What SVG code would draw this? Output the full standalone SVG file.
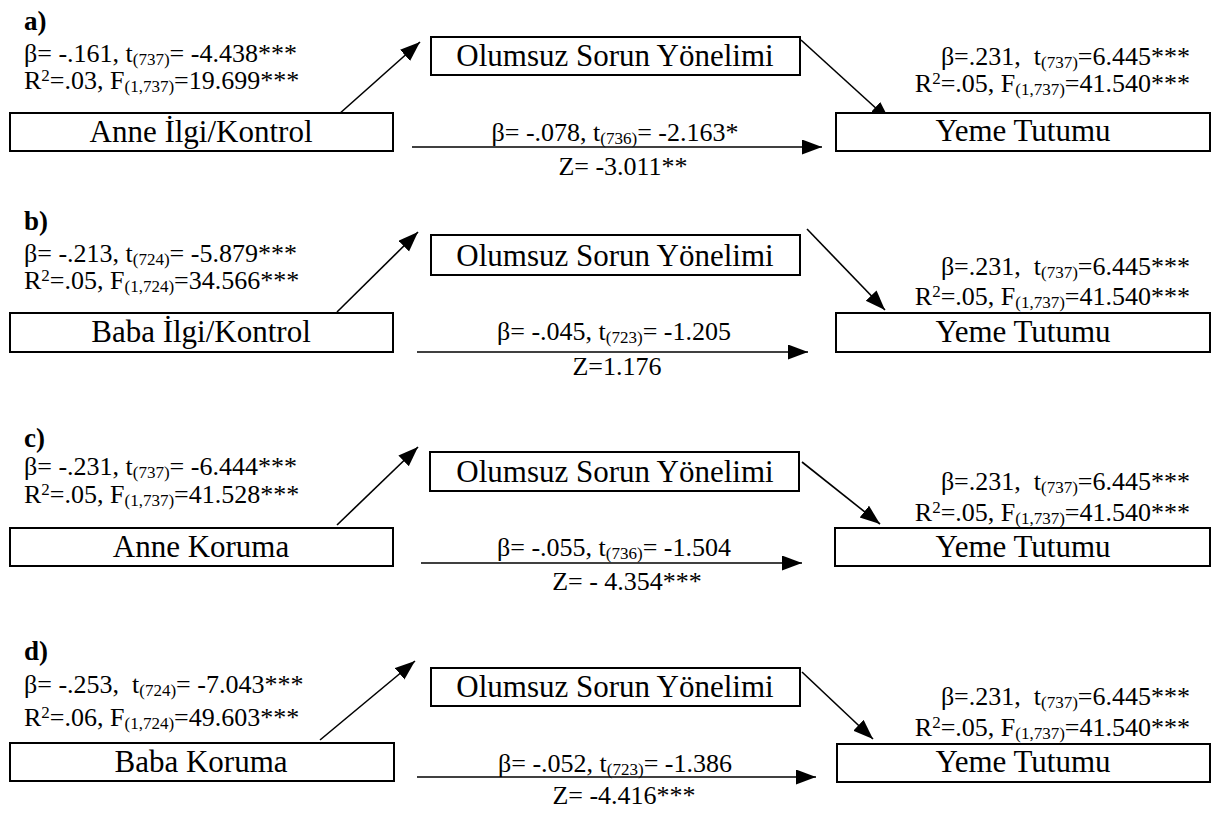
<svg xmlns="http://www.w3.org/2000/svg" width="1215" height="813" viewBox="0 0 1215 813" xml:space="preserve">
<style>
text{font-family:"Liberation Serif","Times New Roman",serif;fill:#000;white-space:pre}
.box{fill:#fff;stroke:#000;stroke-width:2}
.big{font-size:31px;text-anchor:middle}
.lab{font-size:26px}
.end{text-anchor:end}
.mid{text-anchor:middle}
.hd{font-size:27px;font-weight:bold}
.s{font-size:17px}
.con{stroke:#000;stroke-width:1.6;fill:none;marker-end:url(#ah)}
</style>
<defs>
<marker id="ah" markerUnits="userSpaceOnUse" markerWidth="22" markerHeight="16" refX="20" refY="7.5" orient="auto" viewBox="0 0 22 16"><path d="M0,0 L20,7.5 L0,15 z" fill="#000"/></marker>
</defs>
<rect width="1215" height="813" fill="#fff"/>

<g id="connectors">
<line class="con" x1="338" y1="115" x2="420" y2="42"/>
<line class="con" x1="412" y1="147" x2="822" y2="147"/>
<line class="con" x1="801" y1="40" x2="890" y2="121"/>
<line class="con" x1="337" y1="312" x2="418" y2="232"/>
<line class="con" x1="417" y1="352" x2="808" y2="352"/>
<line class="con" x1="807" y1="229" x2="885" y2="310"/>
<line class="con" x1="337" y1="525" x2="418" y2="447"/>
<line class="con" x1="421" y1="563" x2="802" y2="563"/>
<line class="con" x1="802" y1="462" x2="880" y2="524"/>
<line class="con" x1="320" y1="740" x2="415" y2="661"/>
<line class="con" x1="417" y1="777" x2="816" y2="777"/>
<line class="con" x1="802" y1="672" x2="873" y2="739"/>
</g>

<!-- Panel a -->
<g id="panel-a-labels">
<text class="hd" x="24" y="30">a)</text>
<text class="lab" x="24" y="62">β= -.161, t<tspan class="s" dy="3">(737)</tspan><tspan dy="-3">= -4.438***</tspan></text>
<text class="lab" x="24" y="89">R<tspan class="s" dy="-8">2</tspan><tspan dy="8">=.03, F</tspan><tspan class="s" dy="3">(1,737)</tspan><tspan dy="-3">=19.699***</tspan></text>
<text class="lab end" x="1190" y="65">β=.231,  t<tspan class="s" dy="3">(737)</tspan><tspan dy="-3">=6.445***</tspan></text>
<text class="lab end" x="1190" y="92">R<tspan class="s" dy="-8">2</tspan><tspan dy="8">=.05, F</tspan><tspan class="s" dy="3">(1,737)</tspan><tspan dy="-3">=41.540***</tspan></text>
<text class="lab mid" x="615" y="141">β= -.078, t<tspan class="s" dy="3">(736)</tspan><tspan dy="-3">= -2.163*</tspan></text>
<text class="lab mid" x="623" y="175">Z= -3.011**</text>
</g>
<g id="a-anne-ilgi"><rect class="box" x="10" y="113" width="383" height="38"/><text class="big" x="201" y="142">Anne İlgi/Kontrol</text></g>
<g id="a-olumsuz"><rect class="box" x="431" y="37" width="369" height="38"/><text class="big" x="615" y="66">Olumsuz Sorun Yönelimi</text></g>
<g id="a-yeme"><rect class="box" x="836" y="113" width="374" height="38"/><text class="big" x="1023" y="141">Yeme Tutumu</text></g>

<!-- Panel b -->
<g id="panel-b-labels">
<text class="hd" x="24" y="230">b)</text>
<text class="lab" x="24" y="262">β= -.213, t<tspan class="s" dy="3">(724)</tspan><tspan dy="-3">= -5.879***</tspan></text>
<text class="lab" x="24" y="289">R<tspan class="s" dy="-8">2</tspan><tspan dy="8">=.05, F</tspan><tspan class="s" dy="3">(1,724)</tspan><tspan dy="-3">=34.566***</tspan></text>
<text class="lab end" x="1190" y="275">β=.231,  t<tspan class="s" dy="3">(737)</tspan><tspan dy="-3">=6.445***</tspan></text>
<text class="lab end" x="1190" y="305">R<tspan class="s" dy="-8">2</tspan><tspan dy="8">=.05, F</tspan><tspan class="s" dy="3">(1,737)</tspan><tspan dy="-3">=41.540***</tspan></text>
<text class="lab mid" x="614" y="340">β= -.045, t<tspan class="s" dy="3">(723)</tspan><tspan dy="-3">= -1.205</tspan></text>
<text class="lab mid" x="617" y="375">Z=1.176</text>
</g>
<g id="b-baba-ilgi"><rect class="box" x="10" y="313" width="383" height="39"/><text class="big" x="201" y="342">Baba İlgi/Kontrol</text></g>
<g id="b-olumsuz"><rect class="box" x="431" y="235" width="369" height="40"/><text class="big" x="615" y="266">Olumsuz Sorun Yönelimi</text></g>
<g id="b-yeme"><rect class="box" x="836" y="313" width="374" height="39"/><text class="big" x="1023" y="342">Yeme Tutumu</text></g>

<!-- Panel c -->
<g id="panel-c-labels">
<text class="hd" x="24" y="447">c)</text>
<text class="lab" x="24" y="475">β= -.231, t<tspan class="s" dy="3">(737)</tspan><tspan dy="-3">= -6.444***</tspan></text>
<text class="lab" x="24" y="503">R<tspan class="s" dy="-8">2</tspan><tspan dy="8">=.05, F</tspan><tspan class="s" dy="3">(1,737)</tspan><tspan dy="-3">=41.528***</tspan></text>
<text class="lab end" x="1190" y="490">β=.231,  t<tspan class="s" dy="3">(737)</tspan><tspan dy="-3">=6.445***</tspan></text>
<text class="lab end" x="1190" y="521">R<tspan class="s" dy="-8">2</tspan><tspan dy="8">=.05, F</tspan><tspan class="s" dy="3">(1,737)</tspan><tspan dy="-3">=41.540***</tspan></text>
<text class="lab mid" x="614" y="556">β= -.055, t<tspan class="s" dy="3">(736)</tspan><tspan dy="-3">= -1.504</tspan></text>
<text class="lab mid" x="627" y="590">Z= - 4.354***</text>
</g>
<g id="c-anne-koruma"><rect class="box" x="10" y="528" width="383" height="38"/><text class="big" x="201" y="557">Anne Koruma</text></g>
<g id="c-olumsuz"><rect class="box" x="430" y="452" width="369" height="39"/><text class="big" x="615" y="482">Olumsuz Sorun Yönelimi</text></g>
<g id="c-yeme"><rect class="box" x="835" y="528" width="375" height="38"/><text class="big" x="1023" y="557">Yeme Tutumu</text></g>

<!-- Panel d -->
<g id="panel-d-labels">
<text class="hd" x="24" y="660">d)</text>
<text class="lab" x="24" y="693">β= -.253,  t<tspan class="s" dy="3">(724)</tspan><tspan dy="-3">= -7.043***</tspan></text>
<text class="lab" x="24" y="726">R<tspan class="s" dy="-8">2</tspan><tspan dy="8">=.06, F</tspan><tspan class="s" dy="3">(1,724)</tspan><tspan dy="-3">=49.603***</tspan></text>
<text class="lab end" x="1190" y="705">β=.231,  t<tspan class="s" dy="3">(737)</tspan><tspan dy="-3">=6.445***</tspan></text>
<text class="lab end" x="1190" y="736">R<tspan class="s" dy="-8">2</tspan><tspan dy="8">=.05, F</tspan><tspan class="s" dy="3">(1,737)</tspan><tspan dy="-3">=41.540***</tspan></text>
<text class="lab mid" x="615" y="772">β= -.052, t<tspan class="s" dy="3">(723)</tspan><tspan dy="-3">= -1.386</tspan></text>
<text class="lab mid" x="624" y="804">Z= -4.416***</text>
</g>
<g id="d-baba-koruma"><rect class="box" x="10" y="743" width="384" height="38"/><text class="big" x="201" y="772">Baba Koruma</text></g>
<g id="d-olumsuz"><rect class="box" x="431" y="668" width="369" height="38"/><text class="big" x="615" y="697">Olumsuz Sorun Yönelimi</text></g>
<g id="d-yeme"><rect class="box" x="837" y="744" width="373" height="38"/><text class="big" x="1023" y="772">Yeme Tutumu</text></g>
</svg>
